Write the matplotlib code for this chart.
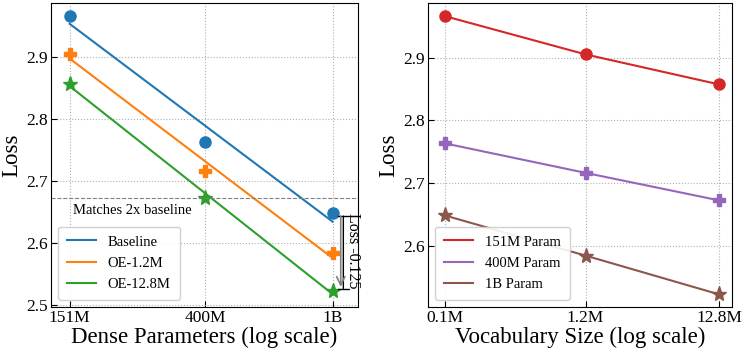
import numpy as np
import matplotlib.pyplot as plt

plt.rcParams['font.family'] = ['Liberation Serif', 'DejaVu Serif']
plt.rcParams['mathtext.fontset'] = 'stix'

dense_params = [151e6, 400e6, 1e9]
dense_labels = ['151M', '400M', '1B']
vocab_sizes = [0.1e6, 1.2e6, 12.8e6]
vocab_labels = ['0.1M', '1.2M', '12.8M']

baseline = [2.966, 2.763, 2.648]
oe_1_2m = [2.905, 2.716, 2.584]
oe_12_8m = [2.857, 2.672, 2.522]

left_names = ['Baseline', 'OE-1.2M', 'OE-12.8M']
right_names = ['151M Param', '400M Param', '1B Param']

colors_left = ['#1f77b4', '#ff7f0e', '#2ca02c']
colors_right = ['#d62728', '#9467bd', '#8c564b']
markers = ['o', 'P', '*']


def style_axis(ax):
    ax.tick_params(axis='both', direction='in', labelsize=12.5, length=4, pad=2)
    ax.grid(True, linestyle=':', color='#b0b0b0', linewidth=0.8)
    ax.minorticks_off()


fig = plt.figure(figsize=(7.46, 3.52), dpi=100)
ax1 = fig.add_axes([51 / 746, 45 / 352, 307 / 746, 304 / 352])
ax2 = fig.add_axes([428 / 746, 45 / 352, 304 / 746, 304 / 352])

series_left = [baseline, oe_1_2m, oe_12_8m]
logx = np.log10(dense_params)
for vals, name, c, m in zip(series_left, left_names, colors_left, markers):
    ms = 11 if m == '*' else 8
    ax1.plot(dense_params, vals, linestyle='none', marker=m, color=c, markersize=ms)
    k, b = np.polyfit(logx, vals, 1)
    ax1.plot(dense_params, k * logx + b, color=c, linewidth=1.5, label=name)

ax1.set_xscale('log')
ax1.set_xticks(dense_params)
ax1.set_xticklabels(dense_labels)
ax1.set_xlim(132e6, 1.2e9)
ax1.set_ylim(2.497, 2.987)
ax1.set_yticks([2.5, 2.6, 2.7, 2.8, 2.9])
ax1.axhline(oe_12_8m[1], color='gray', linestyle='--', linewidth=0.8)
ax1.text(155e6, oe_12_8m[1] - 0.009, 'Matches 2x baseline', fontsize=10.5, va='top')
ax1.annotate('', xy=(1.08e9, oe_12_8m[2]), xytext=(1.08e9, baseline[2]),
             arrowprops=dict(arrowstyle='|-|', color='black', lw=1.0, mutation_scale=4))
ax1.annotate('', xy=(1.06e9, oe_12_8m[2] + 0.003), xytext=(1.06e9, baseline[2]),
             arrowprops=dict(arrowstyle='->', color='gray', lw=1.2, mutation_scale=15))
ax1.text(1.095e9, (baseline[2] + oe_12_8m[2]) / 2 + 0.003, 'Loss -0.125', rotation=-90,
         fontsize=11.5, va='center', ha='left')
ax1.set_xlabel('Dense Parameters (log scale)', fontsize=16.5, labelpad=1)
ax1.set_ylabel('Loss', fontsize=16.5, labelpad=3)
ax1.legend(loc='lower left', fontsize=10.5, framealpha=0.9, borderpad=0.6, labelspacing=0.55)
style_axis(ax1)

series_right = [[baseline[0], oe_1_2m[0], oe_12_8m[0]],
                [baseline[1], oe_1_2m[1], oe_12_8m[1]],
                [baseline[2], oe_1_2m[2], oe_12_8m[2]]]
for vals, name, c, m in zip(series_right, right_names, colors_right, markers):
    ms = 11 if m == '*' else 8
    ax2.plot(vocab_sizes, vals, color=c, linewidth=1.5, label=name)
    ax2.plot(vocab_sizes, vals, color=c, marker=m, markersize=ms, linestyle='none')

ax2.set_xscale('log')
ax2.set_xticks(vocab_sizes)
ax2.set_xticklabels(vocab_labels)
ax2.set_xlim(0.074e6, 16e6)
ax2.set_ylim(2.502, 2.987)
ax2.set_yticks([2.6, 2.7, 2.8, 2.9])
ax2.set_xlabel('Vocabulary Size (log scale)', fontsize=16.5, labelpad=1)
ax2.set_ylabel('Loss', fontsize=16.5, labelpad=3)
ax2.legend(loc='lower left', fontsize=10.5, framealpha=0.9, borderpad=0.6, labelspacing=0.55)
style_axis(ax2)

fig.savefig('out.png', dpi=100)
